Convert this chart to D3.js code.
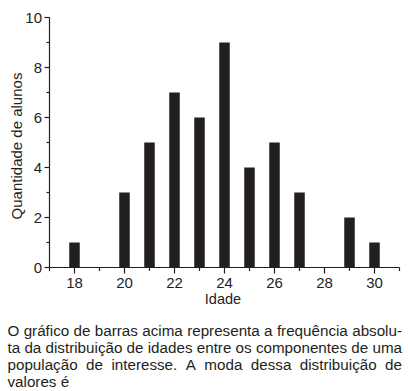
<!DOCTYPE html>
<html><head><meta charset="utf-8">
<script src="https://cdn.jsdelivr.net/npm/d3@7"></script>
<style>html,body{margin:0;padding:0;background:#fff;}svg{display:block;font-family:Arial,"Liberation Sans",Helvetica,sans-serif;}</style>
</head><body>
<svg id="c" width="408" height="391"></svg>
<script>
const ages = [18,19,20,21,22,23,24,25,26,27,28,29,30];
const counts = [1,0,3,5,7,6,9,4,5,3,0,2,1];
const xTickLabels = [18,20,22,24,26,28,30];
const yTickLabels = [0,2,4,6,8,10];
const xTitle = "Idade";
const yTitle = "Quantidade de alunos";
const paragraph = [
  "O gráfico de barras acima representa a frequência absolu-",
  "ta da distribuição de idades entre os componentes de uma",
  "população de interesse. A moda dessa distribuição de",
  "valores é"
];

const ink = "#231f20";
const svg = d3.select("#c");
const x = d3.scaleLinear().domain([17,31]).range([49.5,399.5]);
const y = d3.scaleLinear().domain([0,10]).range([267.5,17.5]);

// bars
const bw = 10.5;
svg.append("g").selectAll("rect").data(ages.map((a,i)=>({a,c:counts[i]})).filter(d=>d.c>0))
  .join("rect")
  .attr("x",d=>x(d.a)-bw/2).attr("width",bw)
  .attr("y",d=>y(d.c)).attr("height",d=>y(0)-y(d.c))
  .attr("fill",ink);

// x axis
const xMinor = d3.range(17,32,1).filter(v=>!xTickLabels.includes(v));
const gx = svg.append("g").attr("transform",`translate(0,${y(0)})`);
gx.append("line").attr("x1",x(17)).attr("x2",x(31)).attr("stroke",ink).attr("stroke-width",1.2);
gx.selectAll("line.mj").data(xTickLabels).join("line").attr("class","mj")
  .attr("x1",d=>x(d)).attr("x2",d=>x(d)).attr("y1",0).attr("y2",6).attr("stroke",ink).attr("stroke-width",1.2);
gx.selectAll("line.mn").data(xMinor).join("line").attr("class","mn")
  .attr("x1",d=>x(d)).attr("x2",d=>x(d)).attr("y1",0).attr("y2",3.5).attr("stroke",ink).attr("stroke-width",1.2);
gx.selectAll("text").data(xTickLabels).join("text")
  .attr("x",d=>x(d)).attr("y",20).attr("text-anchor","middle")
  .attr("font-size",15).attr("fill",ink).text(d=>d);

// y axis
const yMinor = d3.range(1,10,2);
const gy = svg.append("g").attr("transform",`translate(${x(17)},0)`);
gy.append("line").attr("y1",y(0)).attr("y2",y(10)).attr("stroke",ink).attr("stroke-width",1.2);
gy.selectAll("line.mj").data(yTickLabels).join("line").attr("class","mj")
  .attr("y1",d=>y(d)).attr("y2",d=>y(d)).attr("x1",0).attr("x2",-5).attr("stroke",ink).attr("stroke-width",1.2);
gy.selectAll("line.mn").data(yMinor).join("line").attr("class","mn")
  .attr("y1",d=>y(d)).attr("y2",d=>y(d)).attr("x1",0).attr("x2",-3).attr("stroke",ink).attr("stroke-width",1.2);
gy.selectAll("text").data(yTickLabels).join("text")
  .attr("x",-7.5).attr("y",d=>y(d)).attr("dy","0.36em").attr("text-anchor","end")
  .attr("font-size",15).attr("fill",ink).text(d=>d);

// titles
svg.append("text").attr("x",223).attr("y",304).attr("text-anchor","middle")
  .attr("font-size",14.5).attr("fill",ink).text(xTitle);
svg.append("text").attr("transform","translate(22,146) rotate(-90)").attr("text-anchor","middle")
  .attr("font-size",15).attr("fill",ink).text(yTitle);

// justified paragraph
const left = 7.5, right = 402, fs = 15.2;
paragraph.forEach((line,i)=>{
  const by = 335.5 + 17.3*i;
  const words = line.split(" ");
  const g = svg.append("g");
  const nodes = words.map(w=>g.append("text").attr("font-size",fs).attr("fill",ink).attr("y",by).text(w));
  const widths = nodes.map(n=>n.node().getComputedTextLength());
  const total = d3.sum(widths);
  const last = i===paragraph.length-1;
  const gap = last ? 0.278*fs : (right-left-total)/(words.length-1);
  let cx = left;
  nodes.forEach((n,k)=>{ n.attr("x",cx); cx += widths[k]+gap; });
});
</script>
</body></html>
